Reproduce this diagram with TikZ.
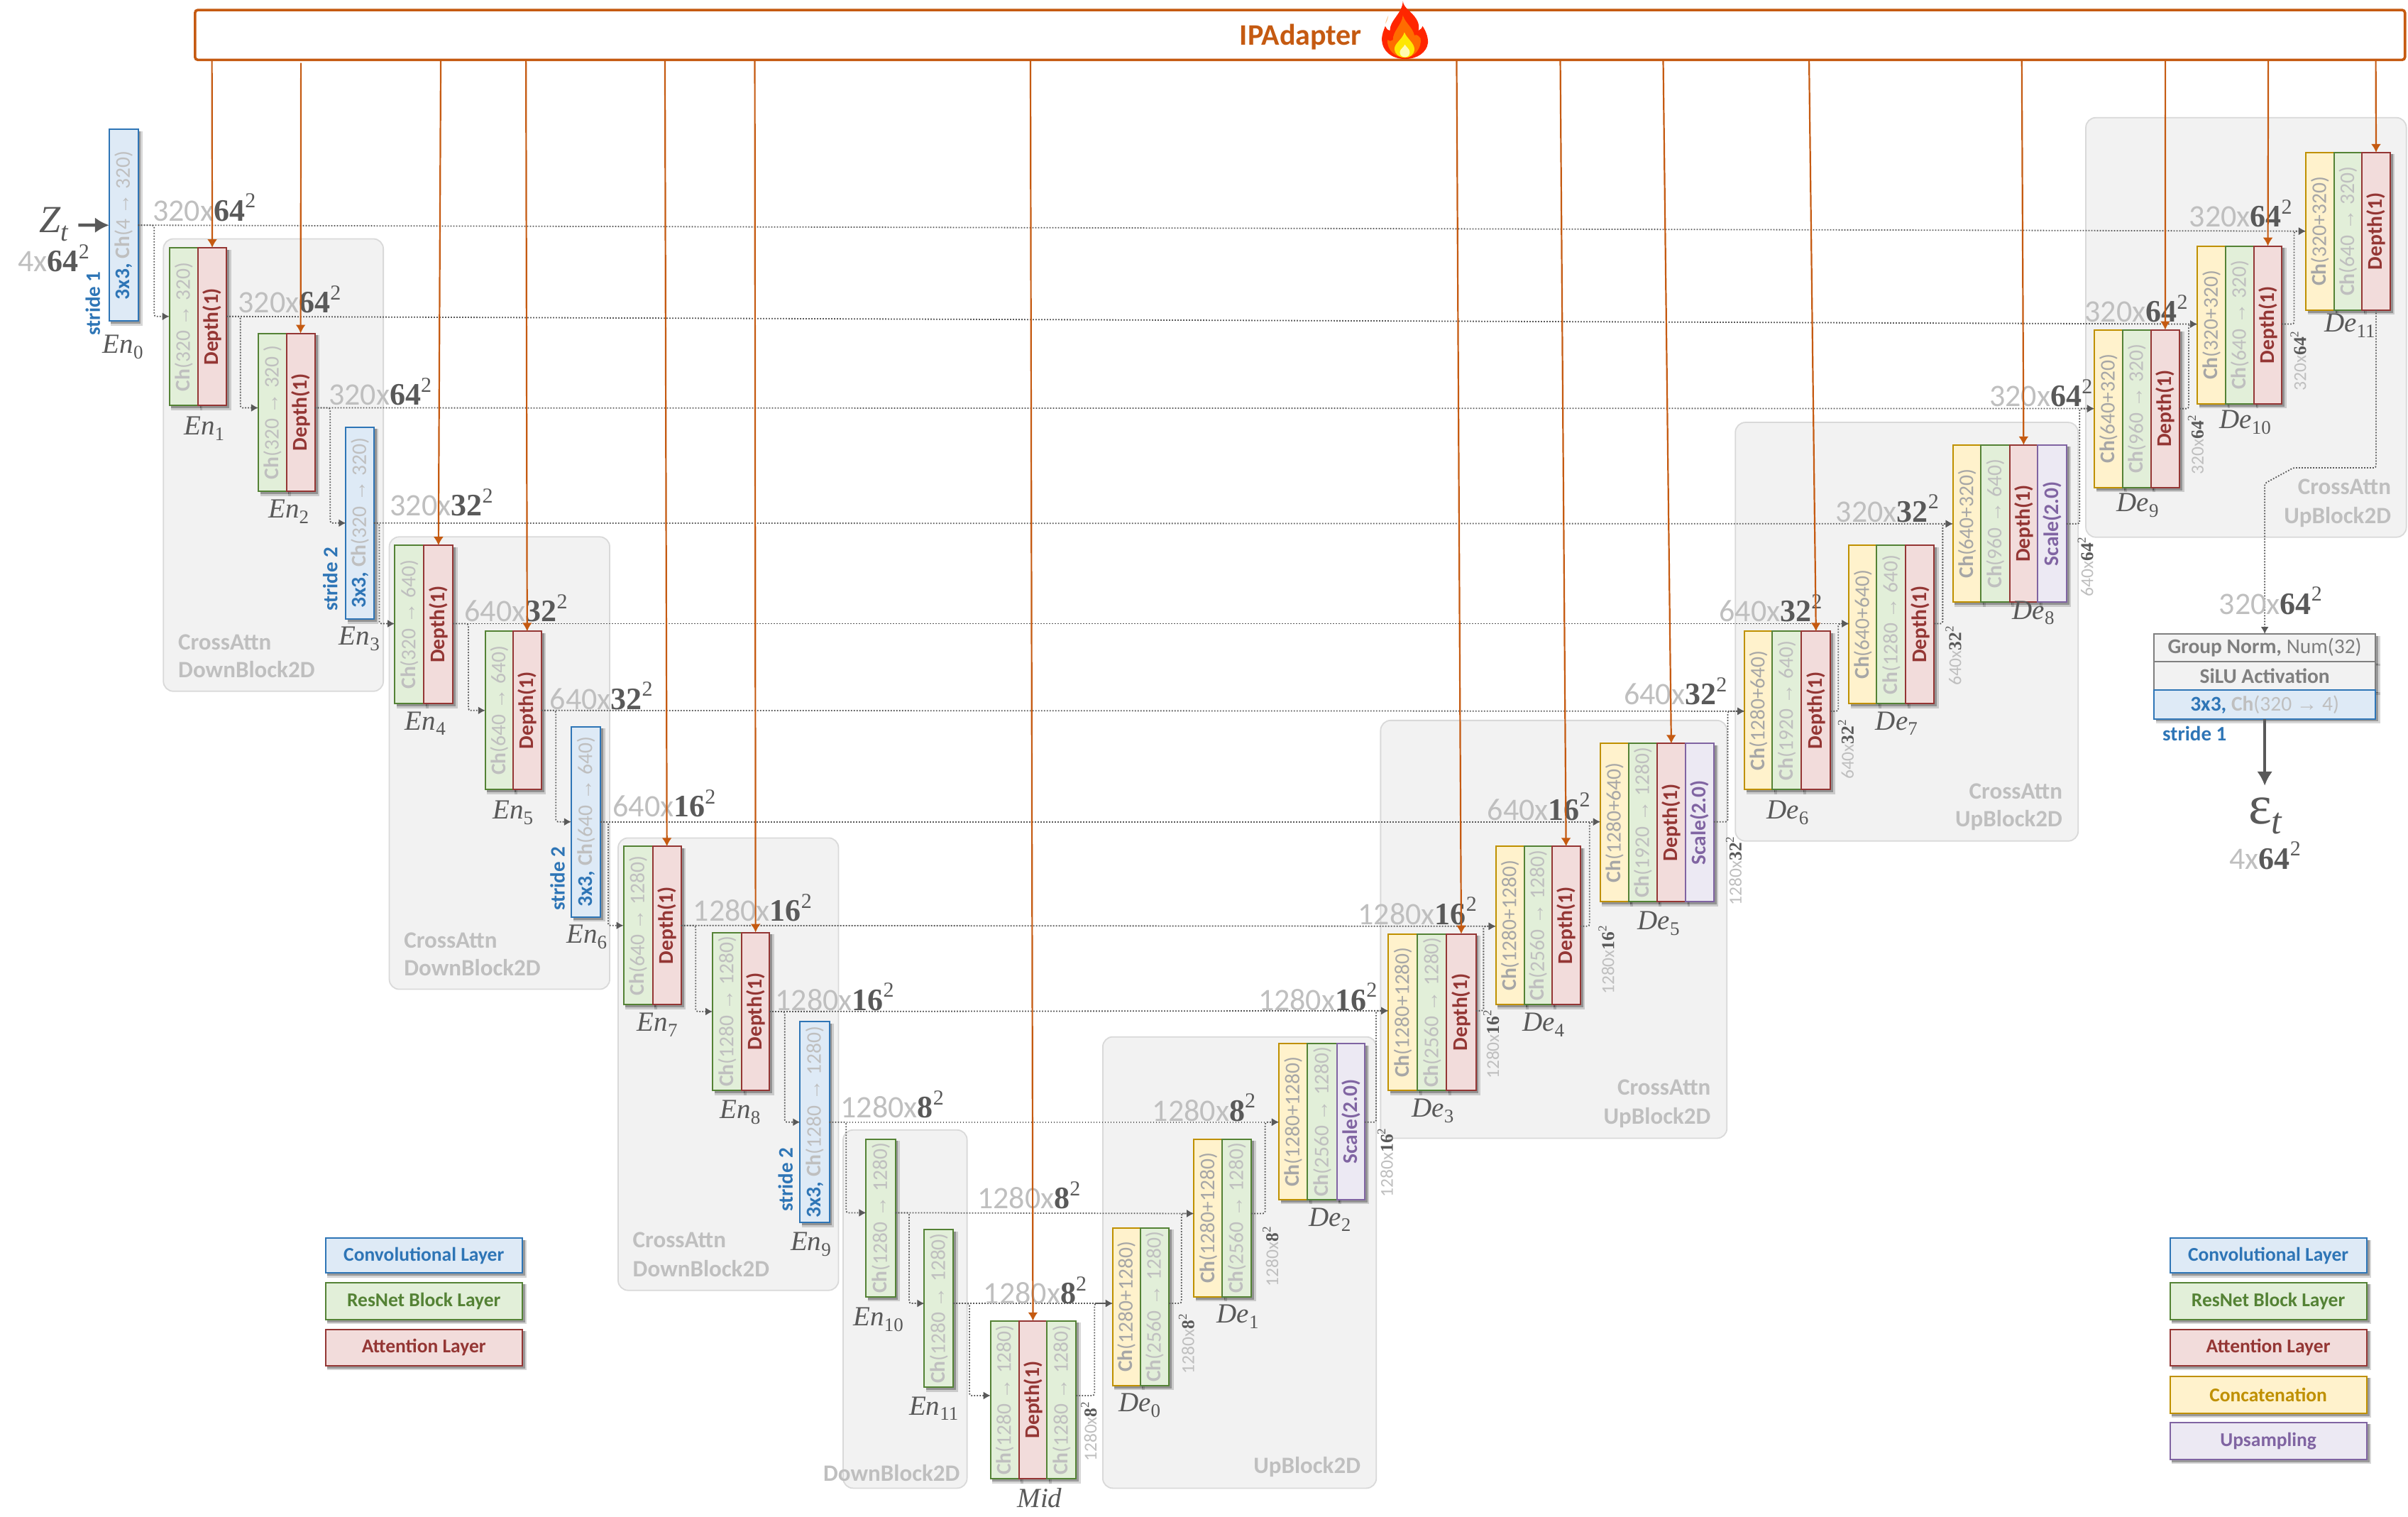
\documentclass[tikz,border=0pt]{standalone}
\usepackage{fontspec}
\setmainfont{Carlito}
\newfontfamily\serifx{Liberation Serif}
\usetikzlibrary{arrows.meta,calc}
\definecolor{lg}{HTML}{BFBFBF}
\definecolor{mg}{HTML}{A6A6A6}
\definecolor{dk}{HTML}{595959}
\definecolor{cvF}{HTML}{DEEAF6}\definecolor{cvD}{HTML}{2E75B6}
\definecolor{rsF}{HTML}{E2EFD9}\definecolor{rsD}{HTML}{548235}
\definecolor{atF}{HTML}{F2DCDB}\definecolor{atD}{HTML}{943634}
\definecolor{ccF}{HTML}{FFF2CC}\definecolor{ccD}{HTML}{BF9000}
\definecolor{upF}{HTML}{ECE9F3}\definecolor{upD}{HTML}{8064A2}
\definecolor{gnF}{HTML}{F2F2F2}\definecolor{gnD}{HTML}{7F7F7F}
\definecolor{orng}{HTML}{C55A11}
\newcounter{nc}
\newcommand\myarr{{\serifx →}}
\newcommand\chT[2]{{\bfseries Ch}(#1 \myarr\ #2)}
\newcommand\chP[2]{{\bfseries Ch}(#1+#2)}
\newcommand\lay[7]{%
  \fill[black,opacity=.16] (#2+1.2,#4+1.2) rectangle (#3+3,#5+3);
  \fill[black,opacity=.28] (#2+1.2,#4+1.2) rectangle (#3+1.8,#5+1.8);
  \node[laybox,#6,minimum width={(#3-#2)*2.1639pt},minimum height={(#5-#4)*2.1639pt}] (#1) at ({(#2+#3)/2},{(#4+#5)/2}) {\rotatebox{90}{#7}};}
\newcommand\hlay[7]{%
  \fill[black,opacity=.16] (#2+1.2,#4+1.2) rectangle (#3+3,#5+3);
  \fill[black,opacity=.28] (#2+1.2,#4+1.2) rectangle (#3+1.8,#5+1.8);
  \node[laybox,#6,minimum width={(#3-#2)*2.1639pt},minimum height={(#5-#4)*2.1639pt}] (#1) at ({(#2+#3)/2},{(#4+#5)/2}) {#7};}
\newcommand\blk[5]{\node[blockbox,minimum width={(#3-#2)*2.1639pt},minimum height={(#5-#4)*2.1639pt}] (#1) at ({(#2+#3)/2},{(#4+#5)/2}) {};}
\newcommand\dl[4]{\stepcounter{nc}\node[dimlab] (dl\thenc) at (#1,#2) {#3\textcolor{dk}{\serifx\bfseries #4\raisebox{.42em}{\fontsize{30}{30}\selectfont\mdseries 2}}};}
\newcommand\dlv[4]{\stepcounter{nc}\node[dimlabv] (dv\thenc) at (#1,#2) {\rotatebox{90}{#3\textcolor{dk}{\serifx\bfseries #4\raisebox{.42em}{\fontsize{17}{17}\selectfont\mdseries 2}}}};}
\newcommand\enl[4]{\stepcounter{nc}\node[namelab] (nm\thenc) at (#1,#2) {{\itshape #3}\raisebox{-.2em}{\fontsize{27}{27}\selectfont #4}};}
\newcommand\stri[3]{\stepcounter{nc}\node[stridelab] (st\thenc) at (#1,#2) {\rotatebox{90}{stride #3}};}
\newcommand\ports[4]{\coordinate (#1i) at (#2.west |- 0,#4);\coordinate (#1o) at (#3.east |- 0,#4);}
\newcommand\conv[3]{\textcolor{cvD}{\bfseries 3x3,} {\bfseries Ch}(#1 \myarr\ #2)#3}
\tikzset{
  laybox/.style={draw,line width=2pt,inner sep=0pt,outer sep=0pt,font=\fontsize{29.5}{30}\selectfont},
  lconv/.style={fill=cvF,draw=cvD,text=lg},
  lres/.style={fill=rsF,draw=rsD,text=lg},
  latt/.style={fill=atF,draw=atD,text=atD,font=\fontsize{29.5}{30}\selectfont\bfseries},
  lcon/.style={fill=ccF,draw=ccD,text=mg},
  lup/.style={fill=upF,draw=upD,text=upD,font=\fontsize{29.5}{30}\selectfont\bfseries},
  lgn/.style={fill=gnF,draw=gnD,text=gnD},
  leg/.style={font=\fontsize{27.5}{28}\selectfont\bfseries},
  blockbox/.style={draw=black!15,line width=1.8pt,fill=gnF,rounded corners=14pt,inner sep=0pt},
  blocklab/.style={text=lg,inner sep=0pt,font=\fontsize{33}{34}\selectfont\bfseries},
  dimlab/.style={text=lg,inner sep=0pt,font=\fontsize{44}{46}\selectfont},
  dimlabv/.style={text=lg,inner sep=0pt,font=\fontsize{25.5}{26}\selectfont},
  namelab/.style={text=dk,inner sep=0pt,font=\fontsize{39}{40}\serifx\selectfont},
  stridelab/.style={text=cvD,inner sep=0pt,font=\fontsize{29}{30}\selectfont\bfseries},
  skip/.style={draw=dk,line width=1.8pt,dash pattern=on 1.8pt off 2.2pt,rounded corners=3pt,-{Latex[length=10pt,width=11pt]}},
  ipl/.style={draw=orng,line width=2.2pt,-{Latex[length=12pt,width=14pt]}},
  thickar/.style={draw=dk,line width=4.5pt,-{Latex[length=20pt,width=22pt]}},
}
\begin{document}
\begin{tikzpicture}[x=2.1639pt,y=-2.1639pt]
\useasboundingbox (0,0) rectangle (1568,987.56);
% grey blocks
\blk{bk1}{106.4}{249.6}{155.5}{450}
\blk{bk2}{253.5}{397}{349.5}{644}
\blk{bk3}{402.5}{546}{545.5}{840}
\blk{bk4}{549}{629.7}{735.6}{968.8}
\blk{bk5}{718.1}{896.2}{675}{968.8}
\blk{bk6}{899}{1124.5}{469}{741}
\blk{bk7}{1130}{1353.2}{275}{547.5}
\blk{bk8}{1358.2}{1566.9}{76.6}{349.7}
\node[blocklab,anchor=base west] (bl1) at (116,423) {CrossAttn};
\node[blocklab,anchor=base west] (bl2) at (116,441) {DownBlock2D};
\node[blocklab,anchor=base west] (bl3) at (263,617) {CrossAttn};
\node[blocklab,anchor=base west] (bl4) at (263,635) {DownBlock2D};
\node[blocklab,anchor=base west] (bl5) at (412,812) {CrossAttn};
\node[blocklab,anchor=base west] (bl6) at (412,831) {DownBlock2D};
\node[blocklab,anchor=base west] (bl7) at (536,964) {DownBlock2D};
\node[blocklab,anchor=base east] (bl8) at (886,959) {UpBlock2D};
\node[blocklab,anchor=base east] (bl9) at (1114,713) {CrossAttn};
\node[blocklab,anchor=base east] (bl10) at (1114,732) {UpBlock2D};
\node[blocklab,anchor=base east] (bl11) at (1343,520) {CrossAttn};
\node[blocklab,anchor=base east] (bl12) at (1343,538) {UpBlock2D};
\node[blocklab,anchor=base east] (bl13) at (1557,322) {CrossAttn};
\node[blocklab,anchor=base east] (bl14) at (1557,341) {UpBlock2D};
% encoder
\lay{En0a}{71.1}{89.9}{84.2}{209}{lconv}{\conv{4}{320}{}}
\lay{En1a}{110.3}{128.9}{161.3}{264}{lres}{\chT{320}{320}}
\lay{En1b}{128.9}{147.5}{161.3}{264}{latt}{Depth(1)}
\lay{En2a}{168.2}{186.5}{217}{319.8}{lres}{\chT{320}{320 }}
\lay{En2b}{186.5}{205}{217}{319.8}{latt}{Depth(1)}
\lay{En3a}{225.2}{243.5}{278}{403}{lconv}{\conv{320}{320}{}}
\lay{En4a}{257}{276}{355}{458}{lres}{\chT{320}{640}}
\lay{En4b}{276}{295}{355}{458}{latt}{Depth(1)}
\lay{En5a}{316}{334}{411}{514}{lres}{\chT{640}{640}}
\lay{En5b}{334}{352.5}{411}{514}{latt}{Depth(1)}
\lay{En6a}{372}{391}{473}{597}{lconv}{\conv{640}{640}{}}
\lay{En7a}{406}{425}{551}{654}{lres}{\chT{640}{1280}}
\lay{En7b}{425}{443.5}{551}{654}{latt}{Depth(1)}
\lay{En8a}{464}{483}{607}{710}{lres}{\chT{1280}{1280}}
\lay{En8b}{483}{501}{607}{710}{latt}{Depth(1)}
\lay{En9a}{521}{540}{665}{796}{lconv}{\conv{1280}{1280}{}}
\lay{En10a}{564}{583}{741.6}{844.3}{lres}{\chT{1280}{1280}}
\lay{En11a}{601.9}{620.8}{800.4}{903}{lres}{\chT{1280}{1280}}
\lay{Mida}{645}{663.4}{859.9}{962.8}{lres}{\chT{1280}{1280}}
\lay{Midb}{663.4}{681.8}{859.9}{962.8}{latt}{Depth(1)}
\lay{Midc}{681.8}{700.7}{859.9}{962.8}{lres}{\chT{1280}{1280}}
% decoder
\lay{De0a}{724.5}{742.4}{799.4}{902}{lcon}{\chP{1280}{1280}}
\lay{De0b}{742.4}{761.3}{799.4}{902}{lres}{\chT{2560}{1280}}
\lay{De1a}{777.3}{796}{741.6}{844.3}{lcon}{\chP{1280}{1280}}
\lay{De1b}{796}{814.8}{741.6}{844.3}{lres}{\chT{2560}{1280}}
\lay{De2a}{832.7}{851.4}{679.5}{780.9}{lcon}{\chP{1280}{1280}}
\lay{De2b}{851.4}{870.5}{679.5}{780.9}{lres}{\chT{2560}{1280}}
\lay{De2c}{870.5}{888.6}{679.5}{780.9}{lup}{Scale(2.0)}
\lay{De3a}{904}{923}{608}{710}{lcon}{\chP{1280}{1280}}
\lay{De3b}{923}{942}{608}{710}{lres}{\chT{2560}{1280}}
\lay{De3c}{942}{961}{608}{710}{latt}{Depth(1)}
\lay{De4a}{974}{992.5}{551}{654}{lcon}{\chP{1280}{1280}}
\lay{De4b}{992.5}{1010.5}{551}{654}{lres}{\chT{2560}{1280}}
\lay{De4c}{1010.5}{1029}{551}{654}{latt}{Depth(1)}
\lay{De5a}{1042}{1060.5}{484}{587}{lcon}{\chP{1280}{640}}
\lay{De5b}{1060.5}{1079}{484}{587}{lres}{\chT{1920}{1280}}
\lay{De5c}{1079}{1097.5}{484}{587}{latt}{Depth(1)}
\lay{De5d}{1097.5}{1116}{484}{587}{lup}{Scale(2.0)}
\lay{De6a}{1136}{1154}{411}{514}{lcon}{\chP{1280}{640}}
\lay{De6b}{1154}{1173}{411}{514}{lres}{\chT{1920}{640}}
\lay{De6c}{1173}{1192}{411}{514}{latt}{Depth(1)}
\lay{De7a}{1204}{1222}{355}{458}{lcon}{\chP{640}{640}}
\lay{De7b}{1222}{1241}{355}{458}{lres}{\chT{1280}{640}}
\lay{De7c}{1241}{1259.5}{355}{458}{latt}{Depth(1)}
\lay{De8a}{1271.6}{1290}{289.7}{392}{lcon}{\chP{640}{320}}
\lay{De8b}{1290}{1308.5}{289.7}{392}{lres}{\chT{960}{640}}
\lay{De8c}{1308.5}{1326.9}{289.7}{392}{latt}{Depth(1)}
\lay{De8d}{1326.9}{1345.6}{289.7}{392}{lup}{Scale(2.0)}
\lay{De9a}{1363.7}{1382.1}{214.7}{317.4}{lcon}{\chP{640}{320}}
\lay{De9b}{1382.1}{1400.6}{214.7}{317.4}{lres}{\chT{960}{320}}
\lay{De9c}{1400.6}{1419.2}{214.7}{317.4}{latt}{Depth(1)}
\lay{De10a}{1430.8}{1449.2}{160.2}{262.9}{lcon}{\chP{320}{320}}
\lay{De10b}{1449.2}{1467.7}{160.2}{262.9}{lres}{\chT{640}{320}}
\lay{De10c}{1467.7}{1485.8}{160.2}{262.9}{latt}{Depth(1)}
\lay{De11a}{1501.4}{1519.8}{99.3}{201.8}{lcon}{\chP{320}{320}}
\lay{De11b}{1519.8}{1538}{99.3}{201.8}{lres}{\chT{640}{320}}
\lay{De11c}{1538}{1556.4}{99.3}{201.8}{latt}{Depth(1)}
% output head
\hlay{outa}{1402.5}{1546.9}{412.7}{430.7}{lgn}{{\bfseries Group Norm,} Num(32)}
\hlay{outb}{1402.5}{1546.9}{430.7}{449.2}{lgn}{\bfseries SiLU Activation}
\hlay{outc}{1402.5}{1546.9}{449.2}{467.9}{lconv}{\conv{320}{4}{}}
\stepcounter{nc}\node[text=cvD,inner sep=0pt,font=\fontsize{29}{30}\selectfont\bfseries] (stO) at (1429,477.5) {stride 1};
% legends
\hlay{lg1}{212}{340}{806}{828.7}{lconv,text=cvD,leg}{Convolutional Layer}
\hlay{lg2}{212}{340}{835}{859}{lres,text=rsD,leg}{ResNet Block Layer}
\hlay{lg3}{212}{340}{865.4}{889}{latt,text=atD,leg}{Attention Layer}
\hlay{lg4}{1413}{1541}{806}{828.7}{lconv,text=cvD,leg}{Convolutional Layer}
\hlay{lg5}{1413}{1541}{835}{859}{lres,text=rsD,leg}{ResNet Block Layer}
\hlay{lg6}{1413}{1541}{865.4}{889}{latt,text=atD,leg}{Attention Layer}
\hlay{lg7}{1413}{1541}{896}{920}{lcon,text=ccD,leg}{Concatenation}
\hlay{lg8}{1413}{1541}{926}{950}{lup,text=upD,leg}{Upsampling}
% connector ports
\ports{En0}{En0a}{En0a}{146.6}
\ports{En1}{En1a}{En1b}{206}
\ports{En2}{En2a}{En2b}{265.5}
\ports{En3}{En3a}{En3a}{340.5}
\ports{En4}{En4a}{En4b}{406}
\ports{En5}{En5a}{En5b}{462.5}
\ports{En6}{En6a}{En6a}{535}
\ports{En7}{En7a}{En7b}{602.5}
\ports{En8}{En8a}{En8b}{658.5}
\ports{En9}{En9a}{En9a}{730.5}
\ports{En10}{En10a}{En10a}{789.5}
\ports{En11}{En11a}{En11a}{848.5}
\ports{Mid}{Mida}{Midc}{908.5}
\ports{De0}{De0a}{De0b}{848.5}
\ports{De1}{De1a}{De1b}{790}
\ports{De2}{De2a}{De2c}{730.5}
\ports{De3}{De3a}{De3c}{658}
\ports{De4}{De4a}{De4c}{603}
\ports{De5}{De5a}{De5d}{535}
\ports{De6}{De6a}{De6c}{463}
\ports{De7}{De7a}{De7c}{406}
\ports{De8}{De8a}{De8d}{341}
\ports{De9}{De9a}{De9c}{266}
\ports{De10}{De10a}{De10c}{211}
\ports{De11}{De11a}{De11c}{150.5}
% long skips
\draw[skip] (En0o) -- (De11i);
\draw[skip] (En1o) -- (De10i);
\draw[skip] (En2o) -- (De9i);
\draw[skip] (En3o) -- (De8i);
\draw[skip] (En4o) -- (De7i);
\draw[skip] (En5o) -- (De6i);
\draw[skip] (En6o) -- (De5i);
\draw[skip] (En7o) -- (De4i);
\draw[skip] (En8o) -- (De3i);
\draw[skip] (En9o) -- (De2i);
\draw[skip] (En10o) -- (De1i);
\draw[skip] (En11o) -- (De0i);
% short hops
\draw[skip] (En0o) -- ++(10.5,0) |- (En1i);
\draw[skip] (En1o) -- ++(9,0) |- (En2i);
\draw[skip] (En2o) -- ++(10,0) |- (En3i);
\draw[skip] (En3o) -- ++(3.5,0) |- (En4i);
\draw[skip] (En4o) -- ++(10,0) |- (En5i);
\draw[skip] (En5o) -- ++(9.5,0) |- (En6i);
\draw[skip] (En6o) -- ++(5,0) |- (En7i);
\draw[skip] (En7o) -- ++(9.5,0) |- (En8i);
\draw[skip] (En8o) -- ++(10,0) |- (En9i);
\draw[skip] (En9o) -- ++(11,0) |- (En10i);
\draw[skip] (En10o) -- ++(9,0) |- (En11i);
\draw[skip] (En11o) -- ++(10.5,0) |- (Midi);
\draw[skip] (Mido) -- ++(12,0) |- (De0i);
\draw[skip] (De0o) -- ++(8,0) |- (De1i);
\draw[skip] (De1o) -- ++(9,0) |- (De2i);
\draw[skip] (De2o) -- ++(7.5,0) |- (De3i);
\draw[skip] (De3o) -- ++(5,0) |- (De4i);
\draw[skip] (De4o) -- ++(6,0) |- (De5i);
\draw[skip] (De5o) -- ++(9,0) |- (De6i);
\draw[skip] (De6o) -- ++(5,0) |- (De7i);
\draw[skip] (De7o) -- ++(5.5,0) |- (De8i);
\draw[skip] (De8o) -- ++(8.5,0) |- (De9i);
\draw[skip] (De9o) -- ++(6,0) |- (De10i);
\draw[skip] (De10o) -- ++(8,0) |- (De11i);
\coordinate (bendA) at (1493.5,304.5);
\coordinate (bendB) at (1474.7,314.7);
\draw[skip] (De11c.south) -- (De11c.south |- bendA) -- (bendA) -- (bendB) -- (outa.north);
% dimension labels
\dl{133}{135}{320x}{64}
\dl{188.5}{195}{320x}{64}
\dl{247.5}{255}{320x}{64}
\dl{287.5}{327}{320x}{32}
\dl{336}{396}{640x}{32}
\dl{391.5}{453}{640x}{32}
\dl{432.5}{523}{640x}{16}
\dl{490}{591}{1280x}{16}
\dl{543.5}{649}{1280x}{16}
\dl{581}{719}{1280x}{8}
\dl{670}{778}{1280x}{8}
\dl{674}{840}{1280x}{8}
\dl{784}{721}{1280x}{8}
\dl{858}{649}{1280x}{16}
\dl{923}{593}{1280x}{16}
\dl{1002}{525}{640x}{16}
\dl{1091}{450}{640x}{32}
\dl{1153}{396}{640x}{32}
\dl{1229}{331}{320x}{32}
\dl{1329}{256}{320x}{64}
\dl{1391}{201}{320x}{64}
\dl{1459}{139}{320x}{64}
\dl{1478.5}{391}{320x}{64}
\dl{35}{168}{4x}{64}
\dl{1475}{557}{4x}{64}
\dlv{709}{932}{1280x}{8}
\dlv{772.6}{875}{1280x}{8}
\dlv{827.3}{818}{1280x}{8}
\dlv{902}{757}{1280x}{16}
\dlv{971}{680}{1280x}{16}
\dlv{1046}{625}{1280x}{16}
\dlv{1129}{567}{1280x}{32}
\dlv{1202}{488}{640x}{32}
\dlv{1272}{427}{640x}{32}
\dlv{1358}{369}{640x}{64}
\dlv{1429.8}{289.5}{320x}{64}
\dlv{1496.6}{235}{320x}{64}
% stride labels
\stri{60.5}{197.5}{1}
\stri{215}{377}{2}
\stri{363}{572}{2}
\stri{511.5}{768}{2}
% layer names
\enl{80}{226}{En}{0}
\enl{133}{279}{En}{1}
\enl{188}{333}{En}{2}
\enl{234}{416}{En}{3}
\enl{277}{471}{En}{4}
\enl{334}{529}{En}{5}
\enl{382}{610}{En}{6}
\enl{428}{667}{En}{7}
\enl{482}{724}{En}{8}
\enl{528}{810}{En}{9}
\enl{572}{859}{En}{10}
\enl{608}{917}{En}{11}
\stepcounter{nc}\node[namelab] (nmMid) at (677,975) {\itshape Mid};
\enl{742}{915}{De}{0}
\enl{806}{857}{De}{1}
\enl{866}{794}{De}{2}
\enl{933}{723}{De}{3}
\enl{1005}{667}{De}{4}
\enl{1080}{601}{De}{5}
\enl{1164}{529}{De}{6}
\enl{1235}{471}{De}{7}
\enl{1324}{399}{De}{8}
\enl{1392}{329}{De}{9}
\enl{1462}{275}{De}{10}
\enl{1530}{212}{De}{11}
% input / output symbols
\node[namelab,font=\fontsize{54}{56}\serifx\selectfont] (zt) at (35,146) {{\itshape Z}\raisebox{-.22em}{\fontsize{38}{40}\selectfont\itshape t}};
\coordinate (zts) at (51,146.6);
\draw[thickar] (zts) -- (En0a.west);
\node[namelab,font=\fontsize{78}{80}\serifx\selectfont] (eps) at (1475,531) {ε\raisebox{-.18em}{\fontsize{52}{54}\selectfont\itshape t}};
\coordinate (epsin) at (1474.7,511.5);
\draw[thickar] (outc.south) -- (epsin);
% IPAdapter
\node[draw=orng,line width=3.6pt,fill=white,rounded corners=4pt,minimum width={1439*2.1639pt},minimum height={32.5*2.1639pt},inner sep=0pt] (ip) at (846.5,22.75) {};
\node[text=orng,inner sep=0pt,font=\fontsize{42}{44}\selectfont\bfseries] (iptx) at (847,24) {IPAdapter};
\draw[ipl] (138,0 |- ip.south) -- (En1b.north);
\draw[ipl] (196,41) -- (En2b.north);
\draw[ipl] (287,0 |- ip.south) -- (En4b.north);
\draw[ipl] (342.5,0 |- ip.south) -- (En5b.north);
\draw[ipl] (433,0 |- ip.south) -- (En7b.north);
\draw[ipl] (491.5,0 |- ip.south) -- (En8b.north);
\draw[ipl] (671,0 |- ip.south) -- (Midb.north);
\draw[ipl] (948.5,0 |- ip.south) -- (De3c.north);
\draw[ipl] (1016,0 |- ip.south) -- (De4c.north);
\draw[ipl] (1083,0 |- ip.south) -- (De5c.north);
\draw[ipl] (1178,0 |- ip.south) -- (De6c.north);
\draw[ipl] (1316.5,0 |- ip.south) -- (De8c.north);
\draw[ipl] (1410,0 |- ip.south) -- (De9c.north);
\draw[ipl] (1477,0 |- ip.south) -- (De10c.north);
\draw[ipl] (1547,0 |- ip.south) -- (De11c.north);
% flame
\fill[white!60!orange] (904,10) .. controls (903,12.5) and (902,14) .. (902.2,15.5) .. controls (903,14) and (904,12) .. (904,10) -- cycle;
\fill[red!70!orange] (913.5,0.8) .. controls (914,6) and (921,8) .. (923.5,15) .. controls (924,17) and (924,19) .. (923.5,20) .. controls (925,19.5) and (926,18) .. (926.3,17) .. controls (929,21) and (930,25) .. (929.8,28) .. controls (929,34) and (923,38.4) .. (915,38.4) .. controls (906,38.4) and (900,33) .. (899.8,26) .. controls (899.8,22) and (901,20) .. (902,17) .. controls (903,19) and (904,20) .. (905,20) .. controls (905,13) and (913,9) .. (913.5,0.8) -- cycle;
\fill[orange!85!red] (913.5,10) .. controls (915,15) and (920,18) .. (921,23) .. controls (923,22) and (924,24) .. (925,25) .. controls (926,31) and (921,37.5) .. (915,37.5) .. controls (908,37.5) and (903,32) .. (903.5,26) .. controls (904.5,27) and (906,27) .. (907,26) .. controls (907,20) and (913,16) .. (913.5,10) -- cycle;
\fill[yellow!90!orange] (914.5,21) .. controls (916,25) and (921,28) .. (921,32) .. controls (921,35.5) and (918,37.5) .. (915,37.5) .. controls (911,37.5) and (908,35) .. (908,32) .. controls (908,28) and (913,26) .. (914.5,21) -- cycle;
\fill[yellow!30!white] (914.8,29) .. controls (916,31) and (918,32) .. (918,34) .. controls (918,36) and (916.5,37.2) .. (915,37.2) .. controls (913,37.2) and (911.5,36) .. (911.5,34) .. controls (911.5,32) and (914,31) .. (914.8,29) -- cycle;
\end{tikzpicture}
\end{document}
